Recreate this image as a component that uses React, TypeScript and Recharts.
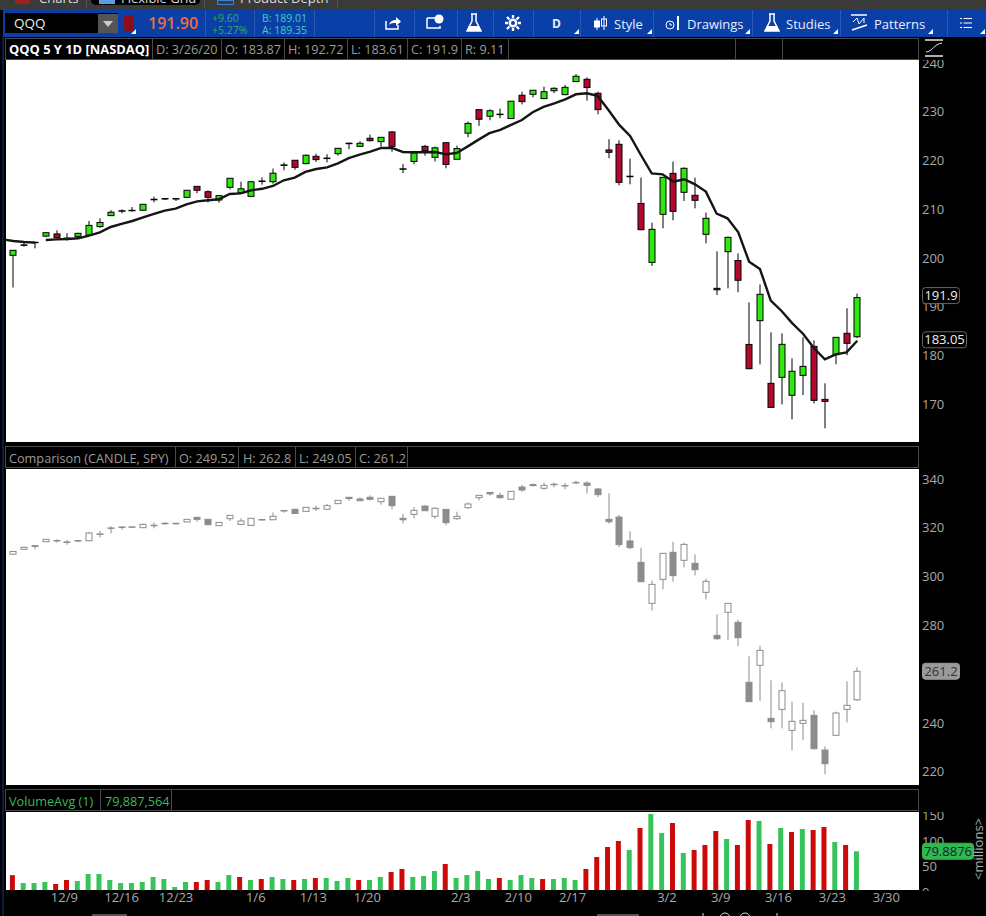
import React from "react";
import { ComposedChart, Bar, Line, XAxis, YAxis, ReferenceLine, Cell } from "recharts";

// ---------- QQQ daily candles ----------
const qqqOpen = [200.56,202.65,203.2,204.5,204.95,204.1,204.45,204.7,206.45,208.7,209.66,209.78,209.8,212.03,212.2,212.15,212.45,214.7,213.6,211.9,214.5,213.4,212.65,215.8,215.65,219.08,220.05,219.36,220.86,220.45,221.4,223.5,222.9,224.55,223.87,225.85,218.3,219.8,222.9,220.65,223.65,220.25,225.6,230.43,229.07,229.5,228.6,233.37,233.57,232.7,234.3,233.5,236.17,236.65,233.78,222.16,223.32,216.78,211.2,199.12,208.97,217.37,213.48,212.87,204.87,193.8,201.31,199.5,182.3,187.17,174.33,175.55,171.87,175.96,181.9,171.04,180.2,184.58,183.87];
const qqqHigh = [201.6,203.15,203.3,205.25,205.7,205.1,205.2,207.6,208.15,209.8,209.99,210.47,211.02,212.6,212.25,212.25,213.9,214.7,213.9,212.8,216.35,215.65,215.65,216.55,218.35,219.6,220.05,221.27,221.4,221.27,222.5,223.67,223.95,225.3,224.75,226.0,219.3,222.0,223.2,222.85,223.65,223.05,228.0,230.43,230.5,230.65,232.15,234.1,234.4,235.15,235.0,235.5,237.7,237.05,234.1,224.35,224.14,220.38,216.49,207.26,216.55,219.77,218.6,216.49,209.31,201.38,204.4,200.97,190.9,194.6,184.78,184.58,179.45,183.75,183.13,174.33,183.75,189.7,192.72];
const qqqLow = [193.97,202.34,202.0,204.3,204.0,203.6,204.25,204.6,206.2,208.7,209.2,209.5,209.8,211.43,211.9,211.7,212.3,213.3,211.4,211.35,214.1,213.4,212.5,215.05,215.25,218.0,218.1,219.2,219.7,219.63,221.0,222.3,222.8,223.87,222.85,221.8,217.4,219.2,221.0,219.8,218.4,220.25,224.75,227.1,228.25,228.65,228.6,231.5,232.95,232.55,233.8,233.4,236.1,232.27,229.47,220.45,214.92,215.12,205.69,198.37,206.1,207.74,211.7,210.2,203.02,192.44,193.8,192.98,177.2,178.22,169.4,170.0,166.94,171.93,170.22,165.1,178.22,180.07,183.61];
const qqqClose = [201.59,202.7,203.25,205.2,204.2,204.0,205.07,206.7,207.3,209.4,209.7,209.8,211.02,212.05,212.2,212.2,213.9,213.9,212.45,212.8,216.35,214.2,215.65,215.8,217.4,219.1,218.6,221.07,220.18,220.5,222.5,223.55,223.53,224.07,224.75,222.9,218.3,221.55,222.0,222.6,219.2,222.45,227.6,228.45,230.2,229.5,232.15,232.07,234.4,234.1,234.8,235.0,237.27,234.95,230.43,221.68,215.53,216.75,205.82,205.89,216.55,209.58,218.4,211.84,208.15,193.5,204.25,195.45,177.33,192.57,169.4,182.32,176.8,177.8,170.84,170.63,183.75,182.53,191.9];
const qqqMaLead = [203.84,203.5,203.3,203.16];
const qqqMaMain = [203.7,203.84,203.9,204.05,204.6,205.28,206.37,207.0,207.6,208.35,209.04,209.72,210.13,211.02,211.63,211.84,212.05,213.14,213.27,213.9,214.2,214.78,215.94,216.5,217.65,218.26,218.6,219.43,220.5,221.2,221.82,222.57,222.57,221.75,221.68,221.68,221.75,221.27,221.55,222.9,224.28,225.6,226.26,227.3,228.3,229.88,230.98,231.73,232.55,233.57,233.78,233.24,230.36,227.29,225.03,221.13,217.37,217.17,215.67,216.15,215.12,213.62,209.1,208.15,205.28,199.25,197.75,191.28,189.16,186.63,184.44,181.5,179.25,180.27,180.68,183.05];

// ---------- SPY comparison candles ----------
const spyOpen = [309.2,311.2,312.7,314.3,314.8,314.2,314.8,314.7,317.45,319.9,320.3,320.3,320.05,321.0,321.85,321.8,322.4,324.3,323.47,320.87,323.74,321.4,321.0,323.4,323.3,327.1,327.6,326.75,328.0,327.6,329.9,332.5,331.8,332.5,330.7,332.9,323.88,325.5,328.9,324.7,327.57,323.74,328.25,332.35,334.5,333.3,331.7,336.7,337.7,336.2,337.8,337.25,338.6,338.36,335.9,323.47,324.4,314.6,305.85,289.05,298.88,309.95,306.67,305.44,293.55,275.93,285.36,281.26,256.67,263.64,241.9,245.6,237.0,239.87,243.14,228.93,234.95,245.6,249.52];
const spyHigh = [310.5,312.3,312.8,315.3,315.27,315.0,315.0,318.3,318.7,320.7,320.7,320.7,321.7,322.1,322.4,322.0,323.5,324.3,323.5,322.5,325.1,323.9,324.0,323.5,326.3,327.3,327.7,328.4,329.1,329.75,331.26,332.5,332.5,333.3,332.2,332.9,325.66,328.5,329.2,328.4,327.57,326.6,330.44,333.3,334.5,334.4,334.95,337.54,338.2,338.5,338.6,338.4,339.3,339.0,336.3,334.1,325.25,318.55,311.86,298.3,309.54,314.3,313.9,309.13,299.15,284.54,289.05,282.35,267.32,271.7,257.5,256.67,248.75,248.3,245.2,230.44,244.65,257.08,262.8];
const spyLow = [308.9,310.9,311.2,314.2,313.9,313.1,314.05,314.5,316.1,317.73,319.2,319.9,319.9,319.8,321.3,321.3,322.4,322.5,321.0,320.7,322.8,321.2,320.8,323.0,323.2,326.2,325.9,326.7,326.9,327.5,329.9,331.1,331.1,331.26,329.5,327.57,321.8,323.9,327.0,323.74,321.0,323.3,327.7,331.26,333.2,331.9,331.7,334.8,337.0,335.6,336.6,335.8,337.8,334.0,332.6,321.7,312.0,311.2,297.9,286.18,294.8,297.9,303.8,300.52,290.7,274.0,274.0,271.42,248.75,249.15,237.8,237.8,228.8,232.9,229.2,218.96,234.7,240.27,249.05];
const spyClose = [310.3,312.0,312.4,315.27,314.7,314.1,314.7,317.87,317.5,319.95,320.35,320.4,321.4,321.05,321.85,321.85,323.47,323.47,321.3,322.2,325.1,322.8,323.9,323.2,324.7,327.0,325.9,328.4,328.0,329.1,331.26,332.0,331.1,331.7,332.1,329.07,323.3,327.16,327.0,328.0,322.1,324.7,329.75,333.3,333.9,332.35,334.95,335.5,337.3,337.4,337.85,337.3,338.5,337.4,333.6,322.5,313.1,311.86,297.9,296.83,309.54,300.4,313.2,302.84,298.06,274.56,289.05,274.97,248.75,269.78,240.55,253.25,240.68,241.1,229.48,223.33,244.1,247.24,261.2];

// ---------- Volume (millions) ----------
const volume = [33,17.6,17.6,19.6,15.7,23.5,21.6,35.3,35.3,23.5,17.6,17.6,19.6,29.4,25.5,9.8,19.6,19.6,23.5,19.6,33.3,29.4,23.5,25.5,29.4,25.5,23.5,25.5,27.5,27.5,21.6,27.5,23.5,23.5,29.4,39.2,45.1,29.4,31.4,41.2,54.9,27.5,33.3,41.2,25.5,27.5,23.5,33.3,27.5,25.5,25.5,27.5,23.5,45.1,68.6,88.2,100,82.4,125.5,152.9,115.7,135.3,76.5,82.4,92.2,119.6,103.9,92.2,141.2,139.2,94.1,125.5,117.6,123.5,121.6,127.5,98,92.2,79.89];
const volumeSide = ["R","G","G","G","R","R","G","G","G","G","G","G","G","G","G","G","G","R","R","G","G","R","G","R","G","G","R","G","R","G","G","G","R","G","G","R","R","G","G","G","R","G","G","G","G","R","G","G","G","R","G","G","G","R","R","R","R","G","R","G","G","R","G","R","R","R","G","R","R","G","R","G","R","G","R","R","G","R","G"];

// ---------- Axis ticks ----------
const qqqTicks = [170, 180, 190, 200, 210, 220, 230, 240];
const spyTicks = [220, 240, 280, 300, 320, 340];
const volumeTicks = [50, 100, 150];
const dateLabels = ["12/9","12/16","12/23","1/6","1/13","1/20","2/3","2/10","2/17","3/2","3/9","3/16","3/23","3/30"];
const dateSlots = [4.81,10.11,15.13,22.5,27.82,32.81,41.44,46.76,51.78,60.5,65.47,70.8,75.78,80.77];

// ---------- Readouts ----------
const qqqHeader = ["D: 3/26/20","O: 183.87","H: 192.72","L: 183.61","C: 191.9","R: 9.11"];
const spyHeader = ["O: 249.52","H: 262.8","L: 249.05","C: 261.2"];

const FONT = "'Open Sans', sans-serif";
const GREY = "#a9a9a9";
const UP = "#2ee80f";
const DOWN = "#b5082f";

const buildCandles = (o: number[], h: number[], l: number[], c: number[]) =>
  o.map((open, slot) => ({ slot, open, close: c[slot], high: h[slot], low: l[slot], range: [l[slot], h[slot]] }));

const qqqRows: any[] = [
  { slot: -1, maA: qqqMaLead[0] },
  ...buildCandles(qqqOpen, qqqHigh, qqqLow, qqqClose).map((r, i) => ({
    ...r,
    maA: i < 3 ? qqqMaLead[i + 1] : undefined,
    maB: i >= 3 ? qqqMaMain[i - 3] : undefined,
  })),
];
const spyRows = buildCandles(spyOpen, spyHigh, spyLow, spyClose);
const volumeRows = volume.map((v, slot) => ({ slot, v, side: volumeSide[slot] }));

const Candle = (props: any) => {
  const { x, y, width, height, payload, wick, upFill, downFill, bodyStroke } = props;
  if (!payload || !payload.range) return null;
  const span = payload.high - payload.low || 1;
  const py = (v: number) => y + ((payload.high - v) / span) * height;
  const top = py(Math.max(payload.open, payload.close));
  const bot = py(Math.min(payload.open, payload.close));
  const cx = Math.round(x + width / 2);
  const up = payload.close >= payload.open;
  return (
    <g>
      <line x1={cx} x2={cx} y1={y} y2={y + height} stroke={wick} strokeWidth={1} />
      <rect x={cx - 3} y={top} width={6} height={Math.max(bot - top, 0.5)} fill={up ? upFill : downFill} stroke={bodyStroke} strokeWidth={1} />
    </g>
  );
};

const PriceTag = (props: any) => {
  const { viewBox, text, w, fill, stroke, color, dy } = props;
  if (!viewBox) return null;
  const x = viewBox.x + viewBox.width + 3.5;
  const cy = viewBox.y + dy;
  return (
    <g>
      <rect x={x} y={cy - 8} width={w} height={16} rx={3} fill={fill} stroke={stroke} strokeWidth={1} />
      <text x={x + w / 2} y={cy + 4.7} textAnchor="middle" fontSize={13} fontFamily={FONT} fill={color}>{text}</text>
    </g>
  );
};

const tickStyle = { fill: GREY, fontSize: 13, fontFamily: FONT };
const XDOM: [number, number] = [-0.675, 83.7];

const abs = (left: number, top: number, width: number, height: number, extra: any = {}) => ({
  position: "absolute" as const, left, top, width, height, ...extra,
});

// Transparent chart above the axis ticks: the last-value tags cover any tick beneath them.
const TagLayer = ({ top, height, bottom = 0, domain, rows, tags }: any) => (
  <div style={abs(0, top, 986, height)}>
    <ComposedChart width={986} height={height} data={rows} margin={{ top: 0, right: 67, bottom, left: 6 }}>
      <XAxis dataKey="slot" type="number" domain={XDOM} allowDataOverflow hide />
      <YAxis domain={domain} allowDataOverflow hide />
      {tags.map((t: any) => (
        <ReferenceLine key={t.text} y={t.value} stroke="none"
          label={<PriceTag text={t.text} w={t.w} fill={t.fill} stroke={t.stroke} color={t.color} dy={t.dy} />} />
      ))}
    </ComposedChart>
  </div>
);

const Strip = ({ top, cells, seps, color, textTop = 3 }: any) => (
  <>
    <div style={{ ...abs(5, top, 914, 22), boxSizing: "border-box", border: "1px solid #4a4a4a", background: "#000" }} />
    {seps.map((s: number, i: number) => <div key={i} style={abs(s, top, 1, 22, { background: "#4a4a4a" })} />)}
    {cells.map(([t, x, st]: any, i: number) => (
      <div key={i} style={{ position: "absolute", left: x, top: top + textTop, fontFamily: FONT, fontSize: 12.7, lineHeight: "16px", color, whiteSpace: "nowrap", ...st }}>{t}</div>
    ))}
  </>
);

const Corner = ({ x, y }: { x: number; y: number }) => (
  <svg style={abs(x, y, 5, 5)} viewBox="0 0 5 5"><path d="M5 0V5H0Z" fill="#fff" /></svg>
);
const Icon = ({ x, y, w, h, children }: any) => (
  <svg style={abs(x, y, w, h)} viewBox={`0 0 ${w} ${h}`} fill="none" stroke="#fff" strokeWidth={1.5}>{children}</svg>
);
const ToolText = ({ x, t, st }: any) => (
  <div style={{ position: "absolute", left: x, top: 15, fontFamily: FONT, fontSize: 13, lineHeight: "18px", color: "#e8eefc", whiteSpace: "nowrap", ...st }}>{t}</div>
);

export default function App() {
  return (
    <div style={{ position: "absolute", left: 0, top: 0, width: 986, height: 916, overflow: "hidden", background: "#000" }}>
      {/* window tabs */}
      <div style={abs(0, 0, 986, 10, { background: "#3a3a3a", overflow: "hidden" })}>
        <div style={abs(15, 0, 15, 4, { background: "#a0201c" })} />
        <div style={{ position: "absolute", left: 39, top: -10, fontFamily: FONT, fontSize: 13, lineHeight: "16px", color: "#ddd" }}>Charts</div>
        <div style={abs(91, 0, 109, 5, { background: "#000", borderRadius: "0 0 5px 5px" })} />
        <div style={abs(99, 0, 16, 4, { background: "#5aa0e0" })} />
        <div style={{ position: "absolute", left: 121, top: -10, fontFamily: FONT, fontSize: 13, lineHeight: "16px", color: "#ddd" }}>Flexible Grid</div>
        <div style={abs(217, 0, 15, 3, { border: "1px solid #3d7fd0" })} />
        <div style={{ position: "absolute", left: 240, top: -10, fontFamily: FONT, fontSize: 13, lineHeight: "16px", color: "#ddd" }}>Product Depth</div>
        {[86, 204, 337].map((s) => <div key={s} style={abs(s, 0, 1, 8, { background: "#555" })} />)}
      </div>

      {/* left edge */}
      <div style={abs(2, 37, 2, 879, { background: "#0a1c44" })} />

      {/* toolbar */}
      <div style={abs(3, 10, 983, 27, { background: "#0b3fa8" })} />
      {[205, 254, 314, 374, 414, 457, 493, 533, 580, 653, 752, 840, 947].map((s) => (
        <div key={s} style={abs(s, 10, 1, 27, { background: "#2a58b8" })} />
      ))}
      <div style={abs(5, 13, 113, 20, { background: "#000" })} />
      <div style={{ position: "absolute", left: 14, top: 15, fontFamily: FONT, fontSize: 13.5, lineHeight: "17px", color: "#eee" }}>QQQ</div>
      <div style={abs(98, 14, 20, 19, { background: "#555" })} />
      <svg style={abs(103, 21, 10, 6)} viewBox="0 0 10 6"><path d="M0 0H10L5 6Z" fill="#ccc" /></svg>
      <div style={abs(124, 15, 10, 16, { background: "#8c0f18", borderRadius: 2 })} />
      <Corner x={131} y={29} />
      <div style={{ position: "absolute", left: 148, top: 13, fontFamily: FONT, fontSize: 16, fontWeight: 600, lineHeight: "21px", color: "#f06a3c" }}>191.90</div>
      <div style={{ position: "absolute", left: 212, top: 12, fontFamily: FONT, fontSize: 10.5, lineHeight: "12px", color: "#2fae5c" }}>+9.60<br />+5.27%</div>
      <div style={{ position: "absolute", left: 262, top: 12, fontFamily: FONT, fontSize: 10.5, lineHeight: "12px", color: "#3cd0c0" }}>B: 189.01<br />A: 189.35</div>

      <Icon x={384} y={15} w={18} h={16}><path d="M2 6V14H14V10" /><path d="M5 10C6 6 9 5 12 5V2L17 6.5L12 11V8C9 8 7 8 5 10Z" fill="#fff" stroke="none" /></Icon>
      <Icon x={426} y={14} w={18} h={16}><path d="M1 4H9M14 12V14H1V4" /><circle cx="13" cy="5" r="4.5" fill="#fff" stroke="none" /></Icon>
      <Icon x={466} y={13} w={16} h={20}><path d="M5 1H11M6 1V8L1 18H15L10 8V1" /><path d="M3 13H13L15 18H1Z" fill="#fff" stroke="none" /></Icon>
      <Icon x={505} y={15} w={16} h={16}><circle cx="8" cy="8" r="3.2" strokeWidth={2.5} /><path d="M8 0V3M8 13V16M0 8H3M13 8H16M2 2L4.5 4.5M11.5 11.5L14 14M14 2L11.5 4.5M4.5 11.5L2 14" strokeWidth={2.4} /></Icon>
      <ToolText x={552} t="D" st={{ fontWeight: 700, fontSize: 12 }} />
      <Corner x={574} y={29} />
      <Icon x={593} y={15} w={15} h={17}><path d="M4 3V15M11 1V15" strokeWidth={1} /><rect x="1.5" y="6" width="5" height="6" fill="#fff" strokeWidth={1} /><rect x="8.5" y="4" width="5" height="7" fill="none" strokeWidth={1} /></Icon>
      <ToolText x={614} t="Style" />
      <Corner x={647} y={29} />
      <Icon x={665} y={15} w={16} h={16}><circle cx="5" cy="10" r="4" strokeWidth={1} /><path d="M5 8V10H7" strokeWidth={1} /><path d="M13 1V15" strokeWidth={2} /></Icon>
      <ToolText x={687} t="Drawings" />
      <Corner x={745} y={29} />
      <Icon x={764} y={13} w={16} h={20}><path d="M5 1H11M6 1V8L1 18H15L10 8V1" /><path d="M3 13H13L15 18H1Z" fill="#fff" stroke="none" /></Icon>
      <ToolText x={786} t="Studies" />
      <Corner x={833} y={29} />
      <Icon x={851} y={14} w={17} h={18}><path d="M0 1H16" /><path d="M2 8L6 4L8 10L13 4L13 9" strokeWidth={1} /><path d="M1 16L16 11" /></Icon>
      <ToolText x={874} t="Patterns" />
      <Corner x={928} y={29} />
      <Icon x={960} y={17} w={12} h={12}><path d="M0 1.5H2M3.5 1.5H12M0 6H2M3.5 6H12M0 10.5H2M3.5 10.5H12" strokeWidth={1.2} /></Icon>
      <Corner x={980} y={29} />

      {/* QQQ pane */}
      <Strip top={38} color="#9a9a9a"
        seps={[152, 221, 284, 347, 407, 461, 508, 735, 782]}
        cells={[
          ["QQQ 5 Y 1D [NASDAQ]", 9, { color: "#fff", fontWeight: 700, fontSize: 12.9 }],
          [qqqHeader[0], 156], [qqqHeader[1], 225], [qqqHeader[2], 288],
          [qqqHeader[3], 351], [qqqHeader[4], 411], [qqqHeader[5], 465],
        ]} />
      <svg style={abs(924, 39, 20, 18)} viewBox="0 0 20 18" fill="none" stroke="#e8e8e8" strokeWidth={1.5}>
        <path d="M1 1H19M1 17H19" /><path d="M2 13C8 13 10 5 18 4" strokeWidth={1} />
      </svg>
      <div style={abs(6, 60, 913, 382, { background: "#fff" })} />
      <div style={abs(0, 60, 986, 382)}>
        <ComposedChart width={986} height={382} data={qqqRows} margin={{ top: 0, right: 0, bottom: 0, left: 6 }}>
          <XAxis dataKey="slot" type="number" domain={XDOM} allowDataOverflow hide />
          <YAxis orientation="right" width={67} domain={[162.3, 240.6]} allowDataOverflow ticks={qqqTicks} interval={0}
            axisLine={false} tickLine={false} tickSize={0} tickMargin={3} tick={tickStyle} />
          <Bar dataKey="range" barSize={7} isAnimationActive={false}
            shape={<Candle wick="#000" upFill={UP} downFill={DOWN} bodyStroke="#000" />} />
          <Line dataKey="maA" stroke="#151515" strokeWidth={2.4} dot={false} isAnimationActive={false} connectNulls={false} />
          <Line dataKey="maB" stroke="#151515" strokeWidth={2.4} dot={false} isAnimationActive={false} connectNulls={false} />
        </ComposedChart>
      </div>
      <TagLayer top={60} height={382} domain={[162.3, 240.6]} rows={qqqRows} tags={[
        { text: "191.9", value: qqqClose[78], w: 37, fill: "#000", stroke: "#666", color: "#eee", dy: -2 },
        { text: "183.05", value: 183.05, w: 44, fill: "#000", stroke: "#666", color: "#eee", dy: -1 },
      ]} />

      {/* Comparison pane */}
      <Strip top={446} color="#9a9a9a" textTop={4}
        seps={[175, 238, 295, 355, 407]}
        cells={[
          ["Comparison (CANDLE, SPY)", 9],
          [spyHeader[0], 179], [spyHeader[1], 243], [spyHeader[2], 299], [spyHeader[3], 359],
        ]} />
      <div style={abs(6, 469, 913, 316, { background: "#fff" })} />
      <div style={abs(0, 469, 986, 316)}>
        <ComposedChart width={986} height={316} data={spyRows} margin={{ top: 0, right: 0, bottom: 0, left: 6 }}>
          <XAxis dataKey="slot" type="number" domain={XDOM} allowDataOverflow hide />
          <YAxis orientation="right" width={67} domain={[214.6, 344.1]} allowDataOverflow ticks={spyTicks} interval={0}
            axisLine={false} tickLine={false} tickSize={0} tickMargin={3} tick={tickStyle} />
          <Bar dataKey="range" barSize={7} isAnimationActive={false}
            shape={<Candle wick="#8c8c8c" upFill="#fff" downFill="#8c8c8c" bodyStroke="#8c8c8c" />} />
        </ComposedChart>
      </div>
      <TagLayer top={469} height={316} domain={[214.6, 344.1]} rows={spyRows} tags={[
        { text: "261.2", value: spyClose[78], w: 37, fill: "#9a9a9a", stroke: "#9a9a9a", color: "#333", dy: 0 },
      ]} />

      {/* Volume pane */}
      <Strip top={789} color="#3cb55c" seps={[100, 171]} textTop={4}
        cells={[["VolumeAvg (1)", 9], ["79,887,564", 105]]} />
      <div style={abs(6, 812, 913, 78, { background: "#fff" })} />
      <div style={abs(0, 812, 986, 104)}>
        <ComposedChart width={986} height={104} data={volumeRows} margin={{ top: 0, right: 0, bottom: 0, left: 6 }}>
          <XAxis dataKey="slot" type="number" domain={[-0.582, 83.79]} allowDataOverflow height={26}
            ticks={dateSlots} interval={0} tickFormatter={(v: number) => dateLabels[dateSlots.indexOf(v)]}
            axisLine={false} tickLine={false} tickSize={0} tickMargin={3} tick={tickStyle} />
          <YAxis orientation="right" width={67} domain={[3.9, 156.9]} allowDataOverflow ticks={volumeTicks} interval={0}
            axisLine={false} tickLine={false} tickSize={0} tickMargin={3} tick={tickStyle} />
          <Bar dataKey="v" barSize={5} isAnimationActive={false}>
            {volumeRows.map((r) => <Cell key={r.slot} fill={r.side === "G" ? "#35c45a" : "#cc0a0a"} />)}
          </Bar>
        </ComposedChart>
      </div>
      <TagLayer top={812} height={104} bottom={26} domain={[3.9, 156.9]} rows={volumeRows} tags={[
        { text: "79.8876", value: 79.8876, w: 51, fill: "#2fb84e", stroke: "#2fb84e", color: "#123", dy: 0 },
      ]} />
      <div style={{ position: "absolute", left: 922, top: 886, height: 5, overflow: "hidden", fontFamily: FONT, fontSize: 13, lineHeight: "13px", color: GREY }}>0</div>
      <div style={{ position: "absolute", left: 948, top: 842, width: 60, height: 16, textAlign: "center", transform: "rotate(-90deg)", fontFamily: FONT, fontSize: 13, lineHeight: "16px", color: GREY }}>&lt;millions&gt;</div>

      {/* footer scrollers and zoom controls */}
      <div style={abs(92, 914, 35, 2, { background: "#555" })} />
      <div style={abs(597, 914, 42, 2, { background: "#555" })} />
      <svg style={abs(698, 912, 86, 4)} viewBox="0 0 86 4" fill="none" stroke="#ddd" strokeWidth={1}>
        <path d="M5 1V4" /><circle cx="27" cy="6" r="5" /><circle cx="47" cy="6" r="5" /><path d="M79 1V4" />
      </svg>
    </div>
  );
}
